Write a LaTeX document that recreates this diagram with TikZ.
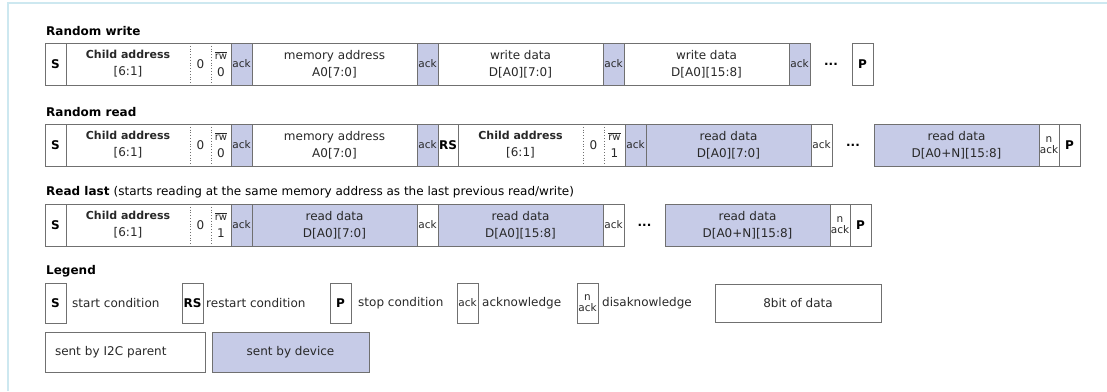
\documentclass[tikz,border=0pt]{standalone}
\usepackage{fontspec}
\setmainfont{DejaVu Sans}
\usetikzlibrary{positioning}

\definecolor{devblue}{RGB}{198,203,231}
\definecolor{boxgray}{RGB}{112,112,112}
\definecolor{txtgray}{RGB}{40,40,40}
\definecolor{framecyan}{RGB}{205,232,240}

\newcommand\childaddr{{\fontsize{11}{17}\selectfont\bfseries Child address}\\{}[6:1]}
\newcommand\rwcell[1]{{\fontsize{10}{11}\selectfont$\overline{\hbox{rw}}$}\\#1}

\begin{document}
\begin{tikzpicture}[x=1pt, y=-1pt,
cell/.style = {rectangle, draw=boxgray, line width=1pt, minimum height=42pt,
               inner sep=0pt, outer sep=0pt, align=center, text=txtgray,
               font=\fontsize{12}{17}\selectfont},
dev/.style = {cell, fill=devblue},
open/.style = {cell, draw=none},
cw/.style = {minimum width=#1pt},
cond/.style = {cell, cw=21, text=black, font=\fontsize{12}{14}\selectfont\bfseries},
small/.style = {font=\fontsize{10.5}{11}\selectfont},
dots/.style = {inner sep=0pt, outer sep=0pt, minimum height=42pt, minimum width=#1pt,
               font=\fontsize{12}{14}\selectfont\bfseries},
title/.style = {anchor=west, inner sep=0pt, font=\fontsize{12}{14}\selectfont\bfseries},
lbl/.style = {inner sep=0pt, text=txtgray, font=\fontsize{12}{14}\selectfont},
sep/.style = {draw=boxgray, line width=0.8pt, dotted},
edge/.style = {draw=boxgray, line width=1pt}]

\useasboundingbox (0,0) rectangle (1107,391);
\draw[framecyan, line width=1.5pt] (8,391) -- (8,3) -- (1107,3);

% random write
\node[title] (tWrite) at (46,31) {Random write};
\node[cond, anchor=west] (wS) at (45,64) {S};
\node[open, cw=124, right=0pt of wS] (wChild) {\childaddr};
\node[open, cw=21, right=0pt of wChild] (wZero) {0};
\node[open, cw=20, right=0pt of wZero] (wRw) {\rwcell{0}};
\node[dev, cw=21, small, right=0pt of wRw] (wAck1) {ack};
\node[cell, cw=165, right=0pt of wAck1] (wMem) {memory address\\A0[7:0]};
\node[dev, cw=21, small, right=0pt of wMem] (wAck2) {ack};
\node[cell, cw=165, right=0pt of wAck2] (wData1) {write data\\D[A0][7:0]};
\node[dev, cw=21, small, right=0pt of wData1] (wAck3) {ack};
\node[cell, cw=165, right=0pt of wAck3] (wData2) {write data\\D[A0][15:8]};
\node[dev, cw=21, small, right=0pt of wData2] (wAck4) {ack};
\node[dots=42, right=0pt of wAck4] (wDots) {...};
\node[cond, right=0pt of wDots] (wP) {P};

% random read
\node[title] (tRead) at (46,112) {Random read};
\node[cond, anchor=west] (rS) at (45,145) {S};
\node[open, cw=124, right=0pt of rS] (rChild) {\childaddr};
\node[open, cw=21, right=0pt of rChild] (rZero) {0};
\node[open, cw=20, right=0pt of rZero] (rRw) {\rwcell{0}};
\node[dev, cw=21, small, right=0pt of rRw] (rAck1) {ack};
\node[cell, cw=165, right=0pt of rAck1] (rMem) {memory address\\A0[7:0]};
\node[dev, cw=21, small, right=0pt of rMem] (rAck2) {ack};
\node[cond, cw=20, right=0pt of rAck2] (rRS) {RS};
\node[open, cw=125, right=0pt of rRS] (rChild2) {\childaddr};
\node[open, cw=21, right=0pt of rChild2] (rZero2) {0};
\node[open, cw=21, right=0pt of rZero2] (rRw2) {\rwcell{1}};
\node[dev, cw=21, small, right=0pt of rRw2] (rAck3) {ack};
\node[dev, cw=165, right=0pt of rAck3] (rData1) {read data\\D[A0][7:0]};
\node[cell, cw=21, small, right=0pt of rData1] (rAck4) {ack};
\node[dots=42, right=0pt of rAck4] (rDots) {...};
\node[dev, cw=165, right=0pt of rDots] (rData2) {read data\\D[A0+N][15:8]};
\node[cell, cw=20, small, right=0pt of rData2] (rNack) {n\\ack};
\node[cond, right=0pt of rNack] (rP) {P};

% read last
\node[title] (tLast) at (46,192) {Read last {\mdseries (starts reading at the same memory address as the last previous read/write)}};
\node[cond, anchor=west] (lS) at (45,225) {S};
\node[open, cw=124, right=0pt of lS] (lChild) {\childaddr};
\node[open, cw=21, right=0pt of lChild] (lZero) {0};
\node[open, cw=20, right=0pt of lZero] (lRw) {\rwcell{1}};
\node[dev, cw=21, small, right=0pt of lRw] (lAck1) {ack};
\node[dev, cw=165, right=0pt of lAck1] (lData1) {read data\\D[A0][7:0]};
\node[cell, cw=21, small, right=0pt of lData1] (lAck2) {ack};
\node[dev, cw=165, right=0pt of lAck2] (lData2) {read data\\D[A0][15:8]};
\node[cell, cw=21, small, right=0pt of lData2] (lAck3) {ack};
\node[dots=41, right=0pt of lAck3] (lDots) {...};
\node[dev, cw=165, right=0pt of lDots] (lData3) {read data\\D[A0+N][15:8]};
\node[cell, cw=20, small, right=0pt of lData3] (lNack) {n\\ack};
\node[cond, right=0pt of lNack] (lP) {P};

% address fields: top and bottom lines, dotted separators
\foreach \s/\c/\z/\a in {wS/wChild/wZero/wAck1, rS/rChild/rZero/rAck1,
                         rRS/rChild2/rZero2/rAck3, lS/lChild/lZero/lAck1}
{
  \draw[edge] (\s.north east) -- (\a.north west) (\s.south east) -- (\a.south west);
  \draw[sep] (\c.north east) -- (\c.south east) (\z.north east) -- (\z.south east);
}

% legend
\node[title] (tLegend) at (46,271) {Legend};
\node[cond, minimum height=40pt, anchor=west] (gS) at (45,303) {S};
\node[lbl, right=6pt of gS] (gSTxt) {start condition};
\node[cond, minimum height=40pt, anchor=west] (gRS) at (182,303) {RS};
\node[lbl, right=3pt of gRS] (gRSTxt) {restart condition};
\node[cond, minimum height=40pt, anchor=west] (gP) at (330,303) {P};
\node[lbl, right=7pt of gP] (gPTxt) {stop condition};
\node[cell, small, cw=21, minimum height=40pt, anchor=west] (gAck) at (457,303) {ack};
\node[lbl, right=4pt of gAck] (gAckTxt) {acknowledge};
\node[cell, small, cw=21, minimum height=40pt, anchor=west] (gNack) at (577,303) {n\\ack};
\node[lbl, right=4pt of gNack] (gNackTxt) {disaknowledge};
\node[cell, cw=166, minimum height=38pt, anchor=west] (gByte) at (715,303) {8bit of data};
\node[cell, minimum height=40pt, text width=140pt, inner xsep=10pt, align=left,
      anchor=west] (gParent) at (45,352) {sent by I2C parent};
\node[dev, cw=157, minimum height=40pt, anchor=west] (gDevice) at (212,352) {sent by device};
\end{tikzpicture}
\end{document}
